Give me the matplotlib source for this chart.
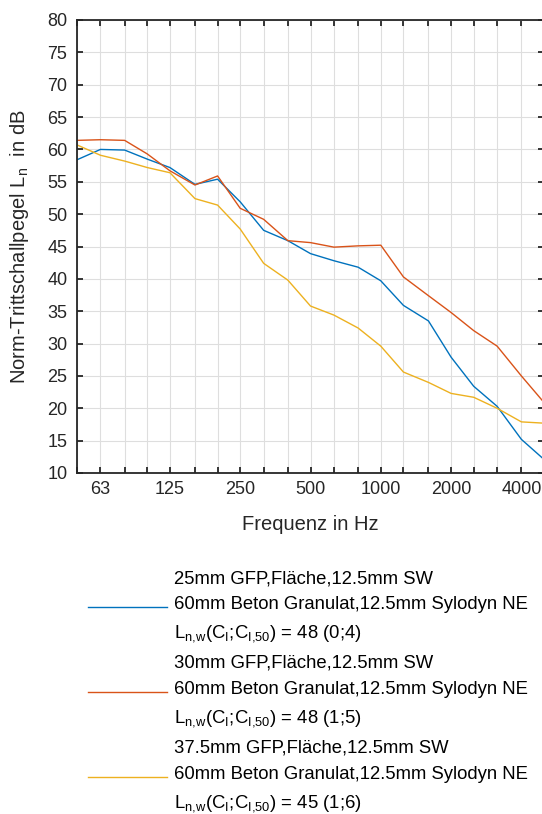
import matplotlib
matplotlib.use("Agg")
import matplotlib.pyplot as plt

# third-octave bands, Hz
freqs = [50, 63, 80, 100, 125, 160, 200, 250, 315, 400, 500,
         630, 800, 1000, 1250, 1600, 2000, 2500, 3150, 4000, 5000]
tick_labels = ["", "63", "", "", "125", "", "", "250", "", "", "500",
               "", "", "1000", "", "", "2000", "", "", "4000", ""]

# Norm-Trittschallpegel Ln in dB
ln_25 = [58.4, 60.0, 59.9, 58.5, 57.2, 54.6, 55.4, 51.9, 47.5, 45.9, 43.9,
         42.8, 41.8, 39.7, 35.9, 33.5, 27.9, 23.4, 20.3, 15.2, 12.1]
ln_30 = [61.4, 61.5, 61.4, 59.3, 56.7, 54.5, 55.9, 50.9, 49.2, 45.9, 45.6,
         44.9, 45.1, 45.2, 40.3, 37.4, 34.8, 32.0, 29.6, 25.0, 20.9]
ln_375 = [60.7, 59.1, 58.2, 57.2, 56.4, 52.4, 51.4, 47.7, 42.4, 39.8, 35.8,
          34.4, 32.4, 29.6, 25.6, 24.0, 22.3, 21.7, 20.0, 17.9, 17.7]

lnw = r"L$_\mathregular{n{,}w}$(C$_\mathregular{I}$;C$_\mathregular{I{,}50}$)"
labels = [
    "25mm GFP,Fläche,12.5mm SW\n60mm Beton Granulat,12.5mm Sylodyn NE\n"
    + lnw + " = 48 (0;4)",
    "30mm GFP,Fläche,12.5mm SW\n60mm Beton Granulat,12.5mm Sylodyn NE\n"
    + lnw + " = 48 (1;5)",
    "37.5mm GFP,Fläche,12.5mm SW\n60mm Beton Granulat,12.5mm Sylodyn NE\n"
    + lnw + " = 45 (1;6)",
]
colors = ["#0072BD", "#D95319", "#EDB120"]

plt.rcParams['font.family'] = ['Liberation Sans', 'DejaVu Sans']
plt.rcParams['text.color'] = '#262626'

fig = plt.figure(figsize=(5.42, 8.14), dpi=100)
ax = fig.add_axes([77 / 542, 1 - 473 / 814, 467 / 542, 453 / 814])

for vals, c, lab in zip([ln_25, ln_30, ln_375], colors, labels):
    ax.plot(freqs, vals, color=c, lw=1.0, label=lab)

ax.set_xscale('log')
ax.set_xlim(50, 5000)
ax.set_ylim(10, 80)
ax.set_xticks(freqs)
ax.set_xticklabels(tick_labels)
ax.minorticks_off()
ax.set_yticks(range(10, 81, 5))

ax.grid(True, color='#dedede', lw=0.8)
ax.set_axisbelow(True)
for s in ax.spines.values():
    s.set_color('#262626')
    s.set_linewidth(1.3)
ax.tick_params(direction='in', top=True, right=True, length=4, width=1.3,
               colors='#262626', labelsize=13)
ax.tick_params(axis='x', pad=6)
ax.tick_params(axis='y', pad=7)

ax.set_xlabel("Frequenz in Hz", fontsize=14.5, color='#262626')
ax.xaxis.set_label_coords(0.5, -0.093)
ax.set_ylabel(r"Norm-Trittschallpegel L$\mathregular{_n}$  in dB", fontsize=14.5,
              color='#262626')
ax.yaxis.set_label_coords(-0.098, 0.5)

leg = fig.legend(loc='upper left', bbox_to_anchor=(88 / 542, 1 - 570 / 814),
                 frameon=False, fontsize=13.3, handlelength=4.3,
                 handletextpad=0.38, borderpad=0, borderaxespad=0,
                 labelspacing=0.62)
for t in leg.get_texts():
    t.set_linespacing(1.68)
    t.set_color('black')

fig.savefig("out.png", dpi=100)
